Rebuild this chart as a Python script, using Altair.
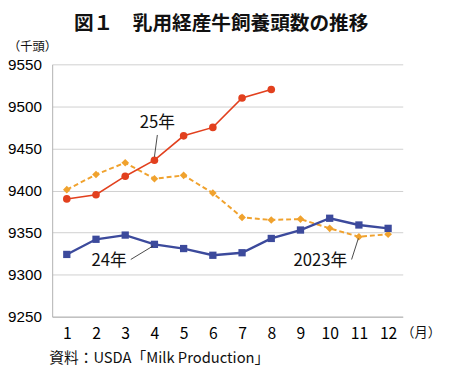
import altair as alt
import pandas as pd

# ---- data ----
months = list(range(1, 13))
y_ticks = [9250, 9300, 9350, 9400, 9450, 9500, 9550]
series_names = ["2023年", "24年", "25年"]
vals_2023 = [9401, 9419, 9433, 9414, 9418, 9397, 9368, 9365, 9366, 9355, 9345, 9348]
vals_2024 = [9324, 9342, 9347, 9336, 9331, 9323, 9326, 9343, 9353, 9367, 9359, 9355]
vals_2025 = [9390, 9395, 9417, 9436, 9465, 9475, 9510, 9520]

ann_text = ["25年", "24年", "2023年"]
ann_x = [4.1, 2.45, 9.68]
ann_y = [9480, 9316, 9316]
lead_x1 = [4.1, 3.19, 10.75]
lead_y1 = [9466, 9318, 9318]
lead_x2 = [4.0, 3.95, 10.98]
lead_y2 = [9440, 9334, 9343]

title_text = "図１　乳用経産牛飼養頭数の推移"
unit_y = "（千頭）"
unit_x = "（月）"
source_text = "資料：USDA「Milk Production」"

rows = []
for name, vals in zip(series_names, [vals_2023, vals_2024, vals_2025]):
    for m, v in zip(months, vals):
        rows.append({"month": m, "value": v, "series": name})
df = pd.DataFrame(rows)

ann_df = pd.DataFrame({"text": ann_text, "x": ann_x, "y": ann_y,
                       "x1": lead_x1, "y1": lead_y1, "x2": lead_x2, "y2": lead_y2})

JP = "Noto Sans CJK JP"

xs = alt.Scale(domain=[0.5, 12.5], nice=False, zero=False)
ys = alt.Scale(domain=[9250, 9550], nice=False, zero=False)

x_axis = alt.Axis(values=months, title=None, grid=False, ticks=False,
                  domainColor="#b0b0b0", labelFontSize=16, labelPadding=9,
                  labelColor="#000", labelFont=JP, format="d",
                  labelOverlap=False, labelSeparation=0, labelFlush=False, labelBound=False)
y_axis = alt.Axis(values=y_ticks, title=None, ticks=False, gridColor="#cfcfcf",
                  domainColor="#b0b0b0", labelFontSize=15.5, labelPadding=11,
                  labelColor="#000", labelFont="Liberation Sans", format="d",
                  labelOverlap=False, labelFlush=False)

x_enc = alt.X("month:Q", scale=xs, axis=x_axis)
y_enc = alt.Y("value:Q", scale=ys, axis=y_axis)

base = alt.Chart(df)

styles = {
    "2023年": dict(color="#F0A22E", shape="diamond", size=60, width=2, dash=[5, 3]),
    "25年": dict(color="#E2401E", shape="circle", size=60, width=1.6, dash=None),
    "24年": dict(color="#3C4A9C", shape="square", size=55, width=2.4, dash=None),
}

layers = []
for name in ["2023年", "25年", "24年"]:
    st = styles[name]
    line_kwargs = dict(color=st["color"], strokeWidth=st["width"])
    if st["dash"]:
        line_kwargs["strokeDash"] = st["dash"]
    line = base.transform_filter(alt.datum.series == name).mark_line(**line_kwargs).encode(x=x_enc, y=y_enc)
    pts = base.transform_filter(alt.datum.series == name).mark_point(
        shape=st["shape"], size=st["size"], filled=True, opacity=1, color=st["color"]
    ).encode(x=x_enc, y=y_enc)
    layers += [line, pts]

leaders = alt.Chart(ann_df).mark_rule(color="#333", strokeWidth=0.9).encode(
    x=alt.X("x1:Q", scale=xs, axis=x_axis), y=alt.Y("y1:Q", scale=ys, axis=y_axis),
    x2="x2:Q", y2="y2:Q")
labels = alt.Chart(ann_df).mark_text(font=JP, fontSize=17, color="#111", baseline="middle", align="center").encode(
    x=alt.X("x:Q", scale=xs, axis=x_axis), y=alt.Y("y:Q", scale=ys, axis=y_axis), text="text:N")

one = alt.Data(values=[{"a": 1}])
title = alt.Chart(one).mark_text(font=JP, fontSize=20, fontWeight="bold", color="#111",
                                 align="center", baseline="top").encode(
    x=alt.value(172), y=alt.value(-51), text=alt.value(title_text))
uy = alt.Chart(one).mark_text(font=JP, fontSize=12.5, color="#111", align="left", baseline="middle").encode(
    x=alt.value(-45), y=alt.value(-18), text=alt.value(unit_y))
ux = alt.Chart(one).mark_text(font=JP, fontSize=13.5, color="#111", align="right", baseline="middle").encode(
    x=alt.value(396), y=alt.value(274), text=alt.value(unit_x))
src = alt.Chart(one).mark_text(font=JP, fontSize=15, color="#111", align="left", baseline="middle").encode(
    x=alt.value(-3), y=alt.value(299), text=alt.value(source_text))

chart = alt.layer(*layers, leaders, labels, title, uy, ux, src).properties(
    width=357, height=257,
    autosize=alt.AutoSizeParams(type="none"),
    padding={"left": 45, "top": 54, "right": 40, "bottom": 54},
    background="white",
).configure_view(stroke=None).configure_axisX(labelOverlap=False)

chart.save("out.html", embed_options={"renderer": "svg", "actions": False})
